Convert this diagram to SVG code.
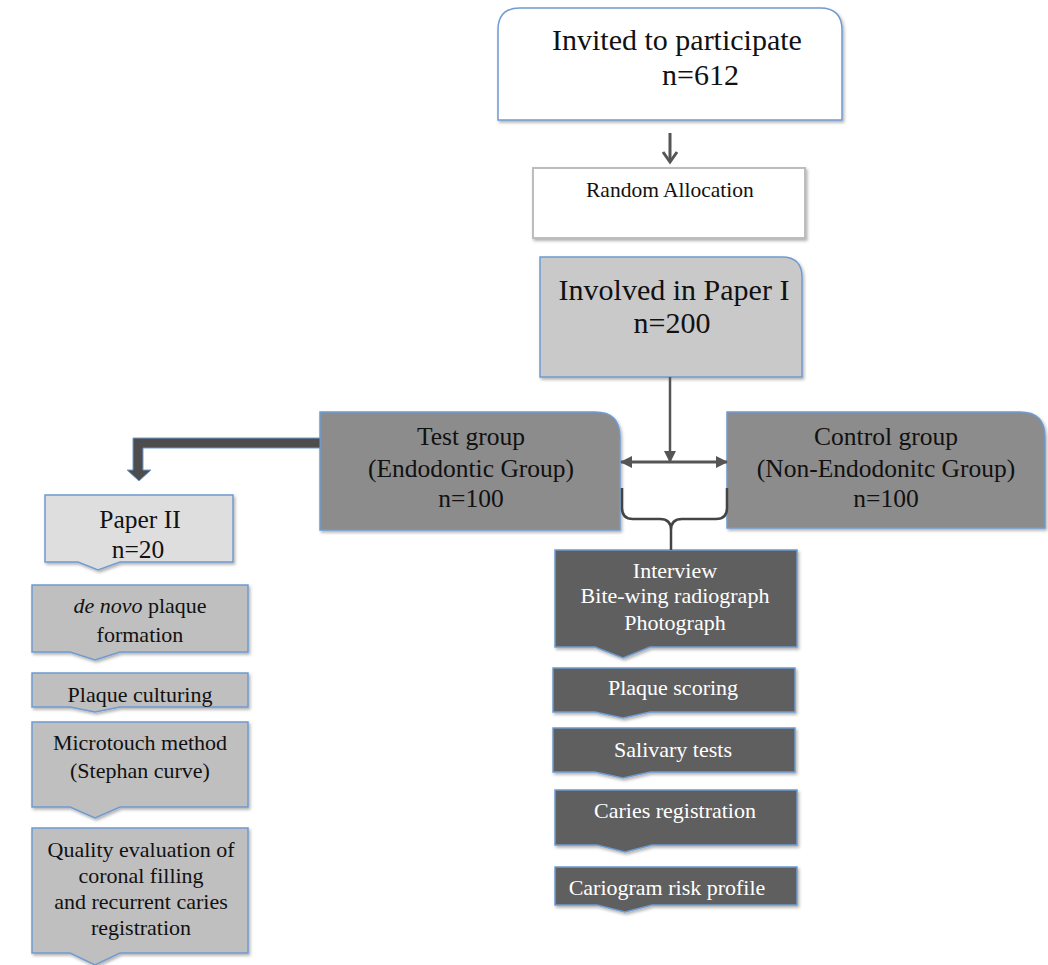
<svg xmlns="http://www.w3.org/2000/svg" width="1048" height="965" viewBox="0 0 1048 965">
<defs>
<filter id="sh" x="-10%" y="-10%" width="120%" height="130%">
<feDropShadow dx="1.5" dy="2" stdDeviation="1.5" flood-color="#000" flood-opacity="0.3"/>
</filter>
<marker id="tri" viewBox="0 0 12 12" refX="11" refY="6" markerWidth="12" markerHeight="12" markerUnits="userSpaceOnUse" orient="auto-start-reverse">
<path d="M0,0 L12,6 L0,12 Z" fill="#555"/>
</marker>
</defs>
<style>
text{font-family:"Liberation Serif","Times New Roman",serif;fill:#111}
.w{fill:#fff}
.c{text-anchor:middle}
.box{stroke:#6f9bd0;stroke-width:1.5}
.lc{fill:#bfbfbf}
.rc{fill:#5f5f5f}
.t22{font-size:22px}
.t25{font-size:25.5px}
.t30{font-size:30px}
</style>
<rect width="1048" height="965" fill="#fff"/>

<g id="invited">
<path class="box" d="M498,120 V30 Q498,8 520,8 H820 Q842,8 842,30 V120 Z" fill="#fff" filter="url(#sh)"/>
<text class="t30" x="552" y="50">Invited to participate</text>
<text class="t30" x="662" y="85">n=612</text>
</g>

<g id="random">
<rect x="533" y="168" width="272" height="70" fill="#fff" stroke="#bdbdbd" stroke-width="2" filter="url(#sh)"/>
<text x="586" y="197" style="font-size:21.5px">Random Allocation</text>
</g>

<g id="involved">
<path class="box" d="M540,257 H782 Q802,257 802,277 V377 H540 Z" fill="#c9c9c9" filter="url(#sh)"/>
<text class="t30 c" x="674" y="300">Involved in Paper I</text>
<text class="t30 c" x="672" y="333">n=200</text>
</g>

<g id="test">
<path class="box" d="M320,412 H595 Q620,412 620,437 V530 H320 Z" fill="#8c8c8c" filter="url(#sh)"/>
<text class="t25 c" x="471" y="445">Test group</text>
<text class="t25 c" x="471" y="477">(Endodontic Group)</text>
<text class="t25 c" x="471" y="507">n=100</text>
</g>

<g id="control">
<path class="box" d="M727,412 H1020 Q1045,412 1045,437 V528 H727 Z" fill="#8c8c8c" filter="url(#sh)"/>
<text class="t25 c" x="886" y="445">Control group</text>
<text class="t25 c" x="886" y="477">(Non-Endodonitc Group)</text>
<text class="t25 c" x="886" y="507">n=100</text>
</g>

<g id="paper2">
<path class="box" d="M45,495 H233 V562 H120 L98,570 L78,562 H45 Z" fill="#dedede" filter="url(#sh)"/>
<text class="t25 c" x="140" y="528">Paper II</text>
<text class="t25 c" x="138" y="558">n=20</text>
</g>

<g id="denovo">
<path class="box lc" d="M32,585 H248 V652 H120 L95,660 L70,652 H32 Z" filter="url(#sh)"/>
<text class="t22 c" x="140" y="613"><tspan font-style="italic">de novo</tspan> plaque</text>
<text class="t22 c" x="140" y="642">formation</text>
</g>

<g id="culturing">
<path class="box lc" d="M32,673 H248 V707 H120 L95,712 L70,707 H32 Z" filter="url(#sh)"/>
<text class="t22 c" x="140" y="702">Plaque culturing</text>
</g>

<g id="microtouch">
<path class="box lc" d="M32,722 H248 V807 H120 L95,818 L70,807 H32 Z" filter="url(#sh)"/>
<text class="t22 c" x="140" y="750">Microtouch method</text>
<text class="t22 c" x="140" y="778">(Stephan curve)</text>
</g>

<g id="quality">
<path class="box lc" d="M32,828 H248 V953 H120 L95,965 L70,953 H32 Z" filter="url(#sh)"/>
<text class="t22 c" x="141" y="857">Quality evaluation of</text>
<text class="t22 c" x="141" y="883">coronal filling</text>
<text class="t22 c" x="141" y="909">and recurrent caries</text>
<text class="t22 c" x="141" y="935">registration</text>
</g>

<g id="interview">
<path class="box rc" d="M555,550 H797 V647 H650 L623,658 L595,647 H555 Z" filter="url(#sh)"/>
<text class="t22 c w" x="675" y="578">Interview</text>
<text class="t22 c w" x="675" y="603">Bite-wing radiograph</text>
<text class="t22 c w" x="675" y="630">Photograph</text>
</g>

<g id="plaquescoring">
<path class="box rc" d="M553,668 H795 V712 H650 L623,718 L595,712 H553 Z" filter="url(#sh)"/>
<text class="t22 c w" x="673" y="695">Plaque scoring</text>
</g>

<g id="salivary">
<path class="box rc" d="M553,728 H795 V772 H650 L623,778 L595,772 H553 Z" filter="url(#sh)"/>
<text class="t22 c w" x="673" y="757">Salivary tests</text>
</g>

<g id="caries">
<path class="box rc" d="M555,790 H797 V845 H652 L625,852 L597,845 H555 Z" filter="url(#sh)"/>
<text class="t22 c w" x="675" y="818">Caries registration</text>
</g>

<g id="cariogram">
<path class="box rc" d="M555,867 H797 V905 H652 L625,912 L597,905 H555 Z" filter="url(#sh)"/>
<text class="t22 c w" x="667" y="895">Cariogram risk profile</text>
</g>

<g id="connectors" fill="none" stroke="#555">
<line x1="670" y1="133" x2="670" y2="161" stroke-width="3"/>
<polyline points="663,152 670,162 677,152" stroke-width="3"/>
<line x1="670" y1="377" x2="670" y2="462" stroke-width="2.5" marker-end="url(#tri)"/>
<line x1="621" y1="462" x2="727" y2="462" stroke-width="3" marker-start="url(#tri)" marker-end="url(#tri)"/>
<path d="M622,488 V508 Q622,519 633,519 H660 Q671,519 671,530 V550 M727,488 V508 Q727,519 716,519 H682 Q671,519 671,530" stroke="#444" stroke-width="2.5"/>
<path d="M320,438 H133 V470 H127 L139,481 L151,470 H143 V448 H320 Z" fill="#4d4d4d" stroke="#6f9bd0" stroke-width="1"/>
</g>
</svg>
